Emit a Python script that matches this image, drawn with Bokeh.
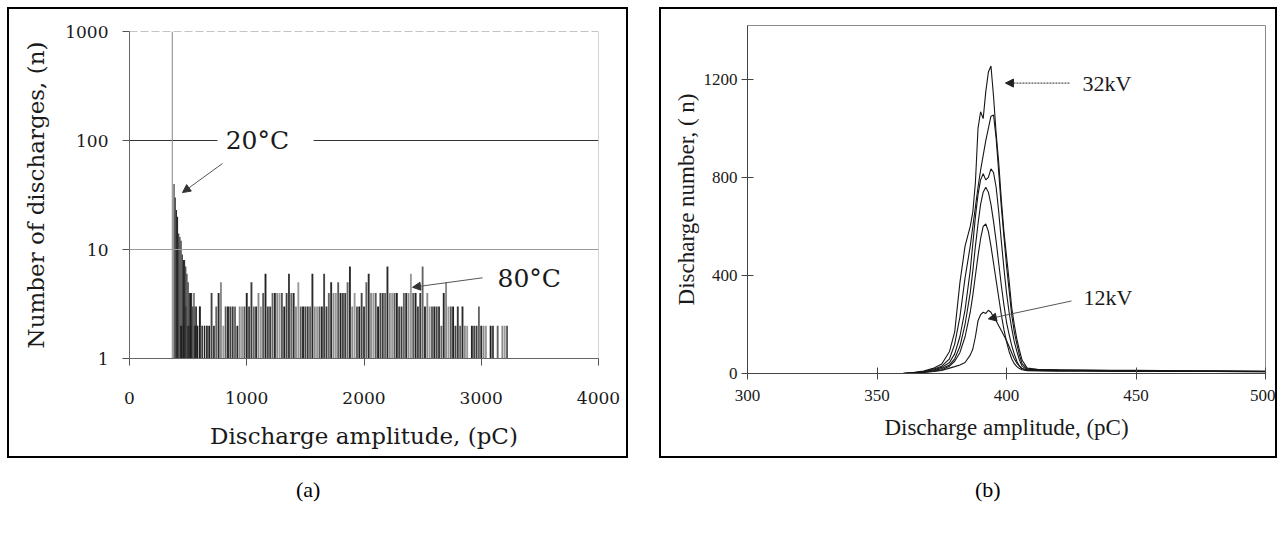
import numpy as np
from bokeh.plotting import figure
from bokeh.models import (Range1d, Span, Label, Arrow, NormalHead, FixedTicker,
                          PrintfTickFormatter, Div, Spacer)
from bokeh.layouts import row, column
from bokeh.embed import file_html
from bokeh.resources import INLINE

# ---------------- Panel (a) data: discharge histogram (log count) ----------------
amp_20C = [365, 380, 390, 400, 410, 420, 430, 440, 450, 460, 470, 480, 490, 500,
           510, 520, 530, 540, 550, 560, 570, 580, 600, 620, 640, 660]
cnt_20C = [1000, 40, 30, 23, 20, 14, 13, 12, 9, 8, 8, 7, 6, 5,
           4, 4, 4, 3, 4, 3, 3, 2, 3, 2, 2, 2]

amp_80C = list(range(440, 3221, 20))
cnt_80C = [2, 2, 3, 2, 2, 1, 2, 2, 3, 2,
           2, 2, 2, 4, 2, 3, 4, 5, 2, 3,
           3, 3, 3, 3, 2, 3, 3, 3, 4, 3,
           5, 3, 3, 4, 3, 4, 6, 3, 3, 4,
           4, 4, 4, 4, 3, 4, 6, 4, 4, 3,
           5, 3, 3, 3, 3, 3, 6, 3, 3, 3,
           3, 6, 3, 4, 5, 4, 4, 5, 4, 4,
           4, 5, 7, 3, 4, 3, 3, 4, 3, 5,
           6, 4, 4, 4, 3, 4, 4, 4, 7, 4,
           4, 4, 4, 3, 3, 4, 4, 4, 6, 4,
           4, 3, 4, 7, 3, 4, 3, 3, 3, 3,
           3, 2, 4, 5, 3, 3, 3, 2, 3, 2,
           3, 2, 2, 1, 2, 2, 2, 3, 2, 2,
           2, 1, 2, 2, 1, 2, 1, 2, 2, 2]

xticks_a = [0, 1000, 2000, 3000, 4000]
yticks_a = [1, 10, 100, 1000]

# ---------------- Panel (b) data: discharge number vs amplitude ----------------
amp_b = [300, 340, 360, 364, 368, 372, 375, 378, 380, 382, 384, 386, 387, 388, 389,
         390, 391, 392, 393, 394, 395, 396, 397, 398, 399, 400, 401, 402, 403, 404,
         405, 406, 408, 412, 420, 430, 440, 450, 460, 470, 480, 490, 500]
n_12kV = [0, 0, 0, 2, 4, 8, 12, 22, 28, 35, 45, 75, 100, 150, 215, 240, 250, 245, 258,
          250, 230, 215, 195, 175, 155, 135, 110, 85, 60, 42, 30, 20, 12, 11, 10, 10,
          9, 9, 8, 8, 8, 7, 7]
n_16kV = [0, 0, 0, 2, 5, 10, 15, 30, 50, 85, 150, 250, 320, 400, 480, 550, 600, 610,
          580, 520, 450, 380, 310, 240, 180, 130, 90, 60, 40, 28, 20, 15, 11, 11, 10,
          10, 9, 9, 9, 8, 8, 8, 7]
n_20kV = [0, 0, 0, 2, 6, 12, 20, 35, 60, 110, 200, 330, 420, 520, 610, 690, 740, 760,
          740, 690, 620, 540, 450, 360, 280, 210, 160, 115, 80, 50, 30, 20, 12, 12, 11,
          11, 10, 10, 9, 9, 8, 8, 8]
n_24kV = [0, 0, 0, 3, 7, 15, 25, 45, 80, 150, 260, 420, 530, 640, 730, 790, 815, 790,
          800, 835, 820, 760, 660, 540, 430, 330, 250, 185, 130, 90, 55, 30, 15, 14, 13,
          12, 12, 11, 11, 10, 9, 9, 8]
n_28kV = [0, 0, 0, 3, 8, 18, 30, 60, 120, 230, 390, 520, 600, 680, 760, 830, 890, 950,
          1000, 1050, 1055, 960, 820, 680, 560, 440, 340, 240, 170, 120, 75, 40, 18, 15,
          14, 13, 12, 12, 11, 10, 10, 9, 9]
n_32kV = [0, 0, 0, 4, 10, 22, 39, 90, 170, 370, 520, 600, 660, 780, 1000, 1068, 1040,
          1150, 1230, 1255, 1130, 980, 860, 710, 580, 480, 380, 270, 200, 140, 95, 55,
          22, 17, 15, 14, 13, 13, 12, 11, 11, 10, 9]

xticks_b = [300, 350, 400, 450, 500]
yticks_b = [0, 400, 800, 1200]

FONT_A = "DejaVu Serif"
FONT_B = "Liberation Serif"

# ================= Panel (a) =================
pa = figure(width=617, height=447, x_range=Range1d(0, 4000), y_range=Range1d(1, 1000),
            y_axis_type="log", output_backend="svg", toolbar_location=None,
            min_border_left=120, min_border_right=28, min_border_top=22,
            min_border_bottom=98, outline_line_color=None,
            background_fill_color="white", border_fill_color="white")
pa.frame_align = False
pa.xgrid.visible = False
pa.ygrid.visible = False

# grid / frame lines
pa.add_layout(Span(location=1000, dimension="width", line_color="#8a8a8a", line_width=1.2,
                   line_dash="8 3"))
pa.add_layout(Span(location=10, dimension="width", line_color="#9a9a9a", line_width=1))
pa.add_layout(Span(location=4000, dimension="height", line_color="#aaaaaa", line_width=1))
lab20_x, lab20_y = 820, 100
pa.segment(x0=[0, lab20_x + 750], x1=[lab20_x - 70, 4000], y0=[100, 100], y1=[100, 100],
           line_color="#333333", line_width=1.2)

# bars
shades = ["#2a2a2a", "#5a5a5a", "#3a3a3a", "#8a8a8a", "#222222", "#666666", "#9a9a9a",
          "#444444"]
col80 = [shades[(i * 3) % len(shades)] for i in range(len(amp_80C))]
pa.vbar(x=amp_80C, top=cnt_80C, bottom=1, width=16, fill_color=col80, line_color=None)
col20 = ["#8c8c8c" if v >= 500 else "#1e1e1e" for v in cnt_20C]
pa.vbar(x=amp_20C, top=cnt_20C, bottom=1, width=9, fill_color=col20, line_color=None)

# axes
pa.xaxis.ticker = FixedTicker(ticks=xticks_a)
pa.yaxis.ticker = FixedTicker(ticks=yticks_a)
pa.yaxis.formatter = PrintfTickFormatter(format="%d")
for ax in (pa.xaxis[0], pa.yaxis[0]):
    ax.major_tick_in = 0
    ax.major_tick_out = 7
    ax.minor_tick_line_color = None
    ax.major_tick_line_color = "#555555"
    ax.axis_line_color = "#666666"
    ax.major_label_text_font = FONT_A
    ax.major_label_text_font_size = "17px"
    ax.major_label_text_color = "#1a1a1a"
    ax.axis_label_text_font = FONT_A
    ax.axis_label_text_font_size = "23px"
    ax.axis_label_text_font_style = "normal"
    ax.axis_label_text_color = "#1a1a1a"
pa.xaxis.axis_label = "Discharge amplitude, (pC)"
pa.yaxis.axis_label = "Number of discharges, (n)"
pa.xaxis.major_label_standoff = 26
pa.xaxis.axis_label_standoff = 16
pa.yaxis.major_label_standoff = 14
pa.yaxis.axis_label_standoff = 13

pa.add_layout(Label(x=lab20_x, y=lab20_y, text="20°C", text_font=FONT_A,
                    text_font_size="25px", text_baseline="middle", text_color="#1a1a1a"))
pa.add_layout(Arrow(end=NormalHead(size=8, fill_color="#333333", line_color="#333333"),
                    x_start=793, y_start=61.5, x_end=452, y_end=33.3,
                    line_color="#555555", line_width=1))
pa.add_layout(Label(x=3139, y=5.4, text="80°C", text_font=FONT_A,
                    text_font_size="25px", text_baseline="middle", text_color="#1a1a1a"))
pa.add_layout(Arrow(end=NormalHead(size=8, fill_color="#333333", line_color="#333333"),
                    x_start=3011, y_start=5.5, x_end=2414, y_end=4.5,
                    line_color="#555555", line_width=1))

# ================= Panel (b) =================
pb = figure(width=614, height=447, x_range=Range1d(300, 500), y_range=Range1d(0, 1420),
            output_backend="svg", toolbar_location=None,
            min_border_left=86, min_border_right=10, min_border_top=16,
            min_border_bottom=83, outline_line_color="#8a8a8a", outline_line_width=1,
            background_fill_color="white", border_fill_color="white")
pb.frame_align = False
pb.xgrid.visible = False
pb.ygrid.visible = False

for ys in (n_12kV, n_16kV, n_20kV, n_24kV, n_28kV, n_32kV):
    pb.line(amp_b, ys, line_color="#161616", line_width=1.1)

pb.xaxis.ticker = FixedTicker(ticks=xticks_b)
pb.yaxis.ticker = FixedTicker(ticks=yticks_b)
for ax in (pb.xaxis[0], pb.yaxis[0]):
    ax.major_tick_in = 6
    ax.major_tick_out = 6
    ax.minor_tick_line_color = None
    ax.major_tick_line_color = "#444444"
    ax.axis_line_color = "#444444"
    ax.major_label_text_font = FONT_B
    ax.major_label_text_font_size = "17px"
    ax.major_label_text_color = "#1a1a1a"
    ax.axis_label_text_font = FONT_B
    ax.axis_label_text_font_size = "23px"
    ax.axis_label_text_font_style = "normal"
    ax.axis_label_text_color = "#1a1a1a"
pb.xaxis.axis_label = "Discharge amplitude, (pC)"
pb.yaxis.axis_label = "Discharge number, ( n)"
pb.xaxis.major_label_standoff = 10
pb.xaxis.axis_label_standoff = 11
pb.yaxis.major_label_standoff = 4
pb.yaxis.axis_label_standoff = 2

pb.add_layout(Label(x=429.3, y=1185, text="32kV", text_font=FONT_B,
                    text_font_size="22px", text_baseline="middle", text_color="#1a1a1a"))
pb.add_layout(Arrow(end=NormalHead(size=8, fill_color="#222222", line_color="#222222"),
                    x_start=424.3, y_start=1185, x_end=399.6, y_end=1185,
                    line_color="#555555", line_width=1.2, line_dash="2 1"))
pb.add_layout(Label(x=429.7, y=309, text="12kV", text_font=FONT_B,
                    text_font_size="22px", text_baseline="middle", text_color="#1a1a1a"))
pb.add_layout(Arrow(end=NormalHead(size=8, fill_color="#222222", line_color="#222222"),
                    x_start=425.1, y_start=296, x_end=393.0, y_end=223,
                    line_color="#555555", line_width=1))

# ================= boxed panels & captions =================
box_css = {"border": "2px solid black", "box-sizing": "content-box"}
box_a = column(pa, styles=box_css)
box_b = column(pb, styles=box_css)

cap_style = "font-family:'Liberation Serif';font-size:22px;color:#000;padding-top:11px;"
da = Div(text=f"<div style=\"{cap_style}padding-left:284px;\">(a)</div>", width=621, height=58)
db = Div(text=f"<div style=\"{cap_style}padding-left:301px;\">(b)</div>", width=618, height=58)

layout = column(
    Spacer(height=7),
    row(Spacer(width=7), box_a, Spacer(width=31), box_b),
    row(Spacer(width=7), da, Spacer(width=31), db),
)
open("out.html", "w").write(file_html(layout, INLINE))
